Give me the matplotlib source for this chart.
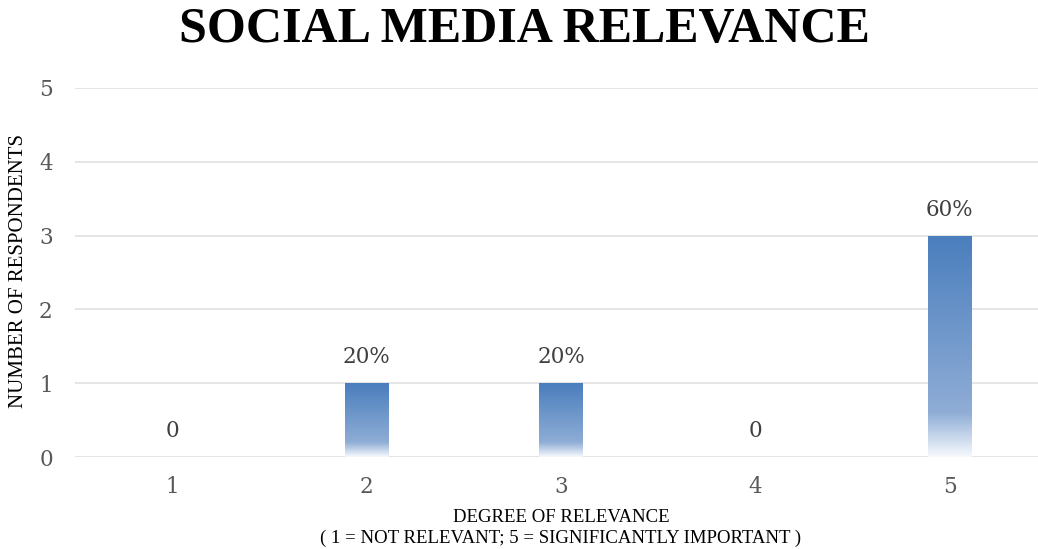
import numpy as np
import matplotlib
matplotlib.use("Agg")
import matplotlib.pyplot as plt
from matplotlib.colors import LinearSegmentedColormap

# data
categories = ["1", "2", "3", "4", "5"]
respondents = [0, 1, 1, 0, 3]
bar_labels = ["0", "20%", "20%", "0", "60%"]

fig = plt.figure(figsize=(10.38, 5.49), dpi=100)
ax = fig.add_axes([75 / 1038, 1 - 457 / 549, 972 / 1038, 369 / 549])

x = np.arange(len(categories))
width = 0.225
bars = ax.bar(x, respondents, width=width, color="none", edgecolor="none", zorder=3)

# gradient fill: blue at top fading to white at the bottom
cmap = LinearSegmentedColormap.from_list(
    "grad", [(0.0, "#f6f9fd"), (0.2, "#8fadd6"), (1.0, "#4a7ebd")])
grad = np.linspace(0, 1, 256).reshape(-1, 1)
for b in bars:
    h = b.get_height()
    if h <= 0:
        continue
    x0 = b.get_x()
    im = ax.imshow(grad, cmap=cmap, origin="lower", aspect="auto",
                   extent=[x0, x0 + b.get_width(), 0, h], zorder=3)
    im.set_clip_path(b)

for xi, v, lab in zip(x, respondents, bar_labels):
    ax.text(xi, v + 0.2, lab, ha="center", va="bottom", fontsize=15.5,
            color="#404040", family="DejaVu Serif")

ax.set_xlim(-0.5, 4.5)
ax.set_ylim(0, 5)
ax.set_yticks(range(6))
ax.set_xticks(x)
ax.set_xticklabels(categories)
ax.grid(axis="y", color="#e0e0e0", linewidth=1.2, zorder=0)
ax.set_axisbelow(True)
for s in ax.spines.values():
    s.set_visible(False)
ax.tick_params(length=0, labelsize=15.5, colors="#595959")
for t in ax.get_xticklabels() + ax.get_yticklabels():
    t.set_family("DejaVu Serif")
ax.tick_params(axis="y", pad=16)
ax.tick_params(axis="x", pad=14)

fig.text(524 / 1038, 1 - 30 / 549, "SOCIAL MEDIA RELEVANCE", ha="center", va="center",
         fontsize=36, fontweight="bold", family="Liberation Serif", color="black")
fig.text(19 / 1038, 1 - 271 / 549, "NUMBER OF RESPONDENTS", rotation=90, ha="center",
         va="center", fontsize=15, family="Liberation Serif")
fig.text(561 / 1038, 1 - 518 / 549, "DEGREE OF RELEVANCE", ha="center", va="center",
         fontsize=13.5, family="Liberation Serif")
fig.text(561 / 1038, 1 - 538 / 549, "( 1 = NOT RELEVANT; 5 = SIGNIFICANTLY IMPORTANT )",
         ha="center", va="center", fontsize=13.5, family="Liberation Serif")

fig.savefig("out.png", dpi=100)
